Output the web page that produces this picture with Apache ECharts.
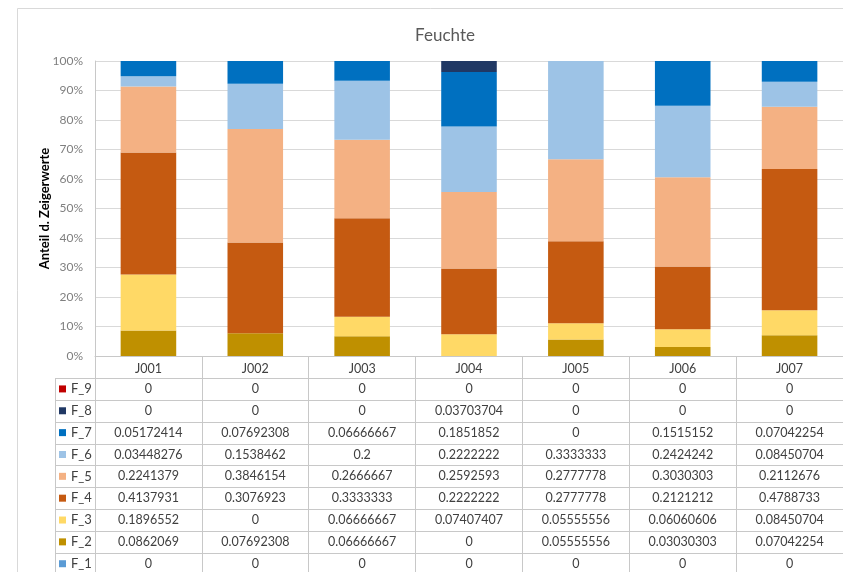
<!DOCTYPE html>
<html>
<head>
<meta charset="utf-8">
<script src="https://cdn.jsdelivr.net/npm/echarts@6/dist/echarts.min.js"></script>
<style>
  html, body { margin: 0; padding: 0; background: #fff; }
  #chart { width: 843px; height: 572px; }
</style>
</head>
<body>
<div id="chart"></div>
<script>
// Plots (categories) and share of indicator values per moisture class
const categories = ['J001', 'J002', 'J003', 'J004', 'J005', 'J006', 'J007'];
const seriesNames = ['F_1', 'F_2', 'F_3', 'F_4', 'F_5', 'F_6', 'F_7', 'F_8', 'F_9'];
const F_1 = [0, 0, 0, 0, 0, 0, 0];
const F_2 = [0.0862069, 0.07692308, 0.06666667, 0, 0.05555556, 0.03030303, 0.07042254];
const F_3 = [0.1896552, 0, 0.06666667, 0.07407407, 0.05555556, 0.06060606, 0.08450704];
const F_4 = [0.4137931, 0.3076923, 0.3333333, 0.2222222, 0.2777778, 0.2121212, 0.4788733];
const F_5 = [0.2241379, 0.3846154, 0.2666667, 0.2592593, 0.2777778, 0.3030303, 0.2112676];
const F_6 = [0.03448276, 0.1538462, 0.2, 0.2222222, 0.3333333, 0.2424242, 0.08450704];
const F_7 = [0.05172414, 0.07692308, 0.06666667, 0.1851852, 0, 0.1515152, 0.07042254];
const F_8 = [0, 0, 0, 0.03703704, 0, 0, 0];
const F_9 = [0, 0, 0, 0, 0, 0, 0];
const seriesValues = [F_1, F_2, F_3, F_4, F_5, F_6, F_7, F_8, F_9];
// Text shown in the data table (as printed in the workbook)
const tableText = {
  F_9: ['0', '0', '0', '0', '0', '0', '0'],
  F_8: ['0', '0', '0', '0.03703704', '0', '0', '0'],
  F_7: ['0.05172414', '0.07692308', '0.06666667', '0.1851852', '0', '0.1515152', '0.07042254'],
  F_6: ['0.03448276', '0.1538462', '0.2', '0.2222222', '0.3333333', '0.2424242', '0.08450704'],
  F_5: ['0.2241379', '0.3846154', '0.2666667', '0.2592593', '0.2777778', '0.3030303', '0.2112676'],
  F_4: ['0.4137931', '0.3076923', '0.3333333', '0.2222222', '0.2777778', '0.2121212', '0.4788733'],
  F_3: ['0.1896552', '0', '0.06666667', '0.07407407', '0.05555556', '0.06060606', '0.08450704'],
  F_2: ['0.0862069', '0.07692308', '0.06666667', '0', '0.05555556', '0.03030303', '0.07042254'],
  F_1: ['0', '0', '0', '0', '0', '0', '0']
};

const colors = {
  F_1: '#5B9BD5', F_2: '#BF9000', F_3: '#FFD966', F_4: '#C55A11', F_5: '#F4B183',
  F_6: '#9DC3E6', F_7: '#0070C0', F_8: '#203864', F_9: '#C00000'
};

const FONT = 'Lato, "Liberation Sans", sans-serif';
const GRID_LEFT = 95, GRID_TOP = 61, GRID_BOTTOM_Y = 356, GRID_W = 753;
const ROW_TOP = 378, ROW_H = 21.85, LEG_X = 55;
const LINE = '#c8c8c8';

const chart = echarts.init(document.getElementById('chart'), null, { renderer: 'canvas' });

const option = {
  animation: false,
  backgroundColor: '#fff',
  title: {
    text: 'Feuchte', left: 440, top: 22, textAlign: 'center',
    textStyle: { fontFamily: FONT, fontSize: 17, fontWeight: 'normal', color: '#595959' }
  },
  grid: { left: GRID_LEFT, top: GRID_TOP, width: GRID_W, height: GRID_BOTTOM_Y - GRID_TOP },
  xAxis: {
    type: 'category', data: categories,
    axisLine: { show: true, lineStyle: { color: LINE, width: 1 } },
    axisTick: { show: true, alignWithLabel: false, length: 572 - GRID_BOTTOM_Y, lineStyle: { color: LINE } },
    axisLabel: { fontFamily: FONT, fontSize: 12.5, color: '#404040', margin: 6 },
    splitLine: { show: false }
  },
  yAxis: {
    type: 'value', min: 0, max: 1, interval: 0.1,
    name: 'Anteil d. Zeigerwerte', nameLocation: 'middle', nameGap: 44, nameRotate: 90,
    nameMoveOverlap: false,
    nameTextStyle: { fontFamily: FONT, fontSize: 13, fontWeight: 'bold', color: '#000' },
    axisLine: { show: true, lineStyle: { color: LINE } },
    axisTick: { show: false },
    axisLabel: {
      fontFamily: FONT, fontSize: 12, color: '#7f7f7f', margin: 12,
      formatter: v => Math.round(v * 100) + '%'
    },
    splitLine: { lineStyle: { color: '#d9d9d9' } }
  },
  series: seriesNames.map((name, i) => ({
    name, type: 'bar', stack: 'total', barWidth: '52%',
    data: seriesValues[i],
    itemStyle: { color: colors[name] }
  }))
};
chart.setOption(option);

// Data table beneath the axis, drawn from the same arrays
function buildTable() {
  const els = [];
  const rightX = 843;
  const bottomY = 572;
  // outer frame of the chart area
  els.push({ type: 'line', shape: { x1: 17.5, y1: 8.5, x2: rightX, y2: 8.5 }, style: { stroke: '#d9d9d9', lineWidth: 1 } });
  els.push({ type: 'line', shape: { x1: 17.5, y1: 8.5, x2: 17.5, y2: bottomY }, style: { stroke: '#d9d9d9', lineWidth: 1 } });

  const rowOrder = seriesNames.slice().reverse(); // F_9 at top
  // legend column border
  els.push({ type: 'line', shape: { x1: LEG_X + 0.5, y1: ROW_TOP, x2: LEG_X + 0.5, y2: bottomY }, style: { stroke: LINE, lineWidth: 1 } });
  rowOrder.forEach((name, r) => {
    const y = Math.round(ROW_TOP + r * ROW_H) + 0.5;
    els.push({ type: 'line', shape: { x1: LEG_X, y1: y, x2: rightX, y2: y }, style: { stroke: LINE, lineWidth: 1 } });
    const cy = ROW_TOP + r * ROW_H + ROW_H / 2;
    els.push({ type: 'rect', shape: { x: 59, y: cy - 3.5, width: 7, height: 7 }, style: { fill: colors[name] } });
    els.push({ type: 'text', x: 71, y: cy, style: { text: name, fontFamily: FONT, fontSize: 13, fill: '#404040', verticalAlign: 'middle', align: 'left' } });
    categories.forEach((c, ci) => {
      const px = chart.convertToPixel({ xAxisIndex: 0 }, ci);
      els.push({ type: 'text', x: px, y: cy, style: { text: tableText[name][ci], fontFamily: FONT, fontSize: 12.5, fill: '#404040', verticalAlign: 'middle', align: 'center' } });
    });
  });
  chart.setOption({ graphic: { elements: els } });
}
buildTable();
</script>
</body>
</html>
